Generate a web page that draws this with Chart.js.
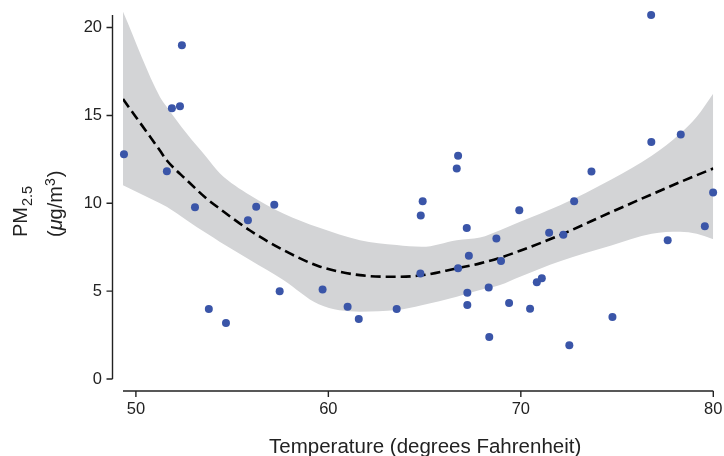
<!DOCTYPE html>
<html><head><meta charset="utf-8">
<script src="https://cdn.jsdelivr.net/npm/chart.js@4.4.0/dist/chart.umd.min.js"></script>
<style>html,body{margin:0;padding:0;background:#fff;}#wrap{width:724px;height:456px;}</style>
</head><body><div id="wrap"><canvas id="c" width="724" height="456"></canvas></div>
<script>
// Observed data: temperature (°F) and PM2.5 (µg/m3)
const tempF = [49.38,51.61,51.87,52.29,52.39,53.07,53.79,54.68,55.82,56.25,57.19,57.47,59.70,61.00,61.58,63.55,64.78,64.80,64.90,66.67,66.74,66.74,67.19,67.30,67.22,67.22,68.33,68.36,68.73,68.97,69.39,69.92,70.48,70.83,71.09,71.47,72.21,72.52,72.77,73.67,74.76,76.77,76.78,77.63,78.31,79.56,79.99];
const pm25  = [12.79,11.83,15.41,15.52,18.99,9.78,3.98,3.18,9.04,9.80,9.91,5.00,5.10,4.11,3.41,3.98,6.01,9.31,10.11,11.98,12.70,6.30,8.60,7.01,4.91,4.21,5.21,2.39,7.99,6.71,4.32,9.61,4.00,5.50,5.73,8.32,8.21,1.92,10.11,11.81,3.53,20.72,13.49,7.90,13.92,8.70,10.62];
// Smooth fit and confidence band
const fitTemp  = [49.33,51.25,51.6,52.64,53.67,54.37,55.93,57.66,59.5,61.64,63.55,64.85,66.67,67.88,68.92,69.96,72.04,74.7,76.8,78.28,79.14,80.0];
const fitPM    = [15.93,13.0,12.45,11.32,10.27,9.68,8.45,7.34,6.42,5.91,5.82,5.9,6.30,6.58,6.90,7.3,8.19,9.5,10.51,11.21,11.6,11.98];
const bandLow  = [11.03,10.0,9.80,9.04,8.29,7.8,6.77,5.63,4.25,3.83,3.92,4.2,4.68,5.06,5.35,5.82,6.7,7.6,8.27,8.38,8.26,7.95];
const bandHigh = [20.9,16.05,15.5,13.97,12.62,11.70,10.46,9.42,8.62,7.90,7.62,7.52,7.90,8.05,8.47,8.95,9.89,11.35,12.7,13.97,14.92,16.25];
const xTicks = [50,60,70,80];
const yTicks = [0,5,10,15,20];
const xTitle = 'Temperature (degrees Fahrenheit)';

const FONT = '"Liberation Sans", Arial, Helvetica, sans-serif';
const TXT = '#222';

const axesPlugin = {
  id: 'axesPlugin',
  afterDraw(chart) {
    const {ctx, chartArea: a, scales: {x, y}} = chart;
    ctx.save();
    ctx.strokeStyle = '#222';
    ctx.lineWidth = 1.4;
    ctx.beginPath();
    const ax = a.left - 10.5;
    ctx.moveTo(ax, a.top + 5);
    ctx.lineTo(ax, y.getPixelForValue(0));
    yTicks.forEach(v => { const p = y.getPixelForValue(v); ctx.moveTo(ax, p); ctx.lineTo(ax - 6, p); });
    const ay = a.bottom + 12;
    ctx.moveTo(a.left, ay);
    ctx.lineTo(a.right, ay);
    xTicks.forEach(v => { const p = x.getPixelForValue(v); ctx.moveTo(p, ay); ctx.lineTo(p, ay + 6); });
    ctx.stroke();

    ctx.fillStyle = TXT;
    // x title
    ctx.font = '20.5px ' + FONT;
    ctx.textAlign = 'center';
    ctx.textBaseline = 'alphabetic';
    ctx.fillText(xTitle, (a.left + a.right) / 2 + 7, 453);

    // y title (rotated, two lines)
    ctx.textAlign = 'left';
    ctx.save();
    ctx.translate(26.7, 237);
    ctx.rotate(-Math.PI / 2);
    ctx.font = '20px ' + FONT;
    ctx.fillText('PM', 0, 0);
    let w = ctx.measureText('PM').width;
    ctx.font = '14.5px ' + FONT;
    ctx.fillText('2.5', w + 1, 5);
    ctx.restore();

    ctx.save();
    ctx.translate(62, 237);
    ctx.rotate(-Math.PI / 2);
    let cx = 0;
    const seg = (t, f, dy) => { ctx.font = f; ctx.fillText(t, cx, dy); cx += ctx.measureText(t).width; };
    seg('(', '20px ' + FONT, 0);
    seg('\u03bc', 'italic 20px ' + FONT, 0);
    seg('g/m', '20px ' + FONT, 0);
    seg('3', '14px ' + FONT, -7.5);
    cx += 1;
    seg(')', '20px ' + FONT, 0);
    ctx.restore();
    ctx.restore();
  }
};

new Chart(document.getElementById('c'), {
  data: {
    datasets: [
      { type: 'scatter', data: tempF.map((t, i) => ({x: t, y: pm25[i]})),
        backgroundColor: '#3a55a8', borderColor: '#3a55a8', borderWidth: 0, pointRadius: 4, clip: false },
      { type: 'line', data: fitTemp.map((t, i) => ({x: t, y: fitPM[i]})),
        borderColor: '#000', borderWidth: 2.6, borderDash: [10, 5], pointRadius: 0, fill: false,
        cubicInterpolationMode: 'monotone' },
      { type: 'line', data: fitTemp.map((t, i) => ({x: t, y: bandLow[i]})),
        borderColor: 'rgba(0,0,0,0)', borderWidth: 0, pointRadius: 0, fill: false,
        cubicInterpolationMode: 'monotone' },
      { type: 'line', data: fitTemp.map((t, i) => ({x: t, y: bandHigh[i]})),
        borderColor: 'rgba(0,0,0,0)', borderWidth: 0, pointRadius: 0, backgroundColor: '#d3d4d6', fill: 2,
        cubicInterpolationMode: 'monotone' }
    ]
  },
  options: {
    responsive: false,
    animation: false,
    devicePixelRatio: 1,
    layout: { padding: { top: 10, right: 10.7, left: 0, bottom: 0 } },
    plugins: { legend: { display: false }, tooltip: { enabled: false } },
    scales: {
      x: {
        type: 'linear', min: 49.33, max: 80,
        afterBuildTicks: s => { s.ticks = xTicks.map(v => ({value: v})); },
        afterFit: s => { s.height = 77; s.paddingLeft = 0; s.paddingRight = 0; },
        grid: { display: false, drawTicks: false },
        border: { display: false },
        ticks: { font: { family: FONT, size: 16.5 }, color: TXT, padding: 21, maxRotation: 0 }
      },
      y: {
        type: 'linear', min: 0, max: 21,
        afterBuildTicks: s => { s.ticks = yTicks.map(v => ({value: v})); },
        afterFit: s => { s.width = 123; s.paddingTop = 0; s.paddingBottom = 0; },
        grid: { display: false, drawTicks: false },
        border: { display: false },
        ticks: { font: { family: FONT, size: 16.5 }, color: TXT, padding: 21 }
      }
    }
  },
  plugins: [axesPlugin]
});
</script>
</body></html>
